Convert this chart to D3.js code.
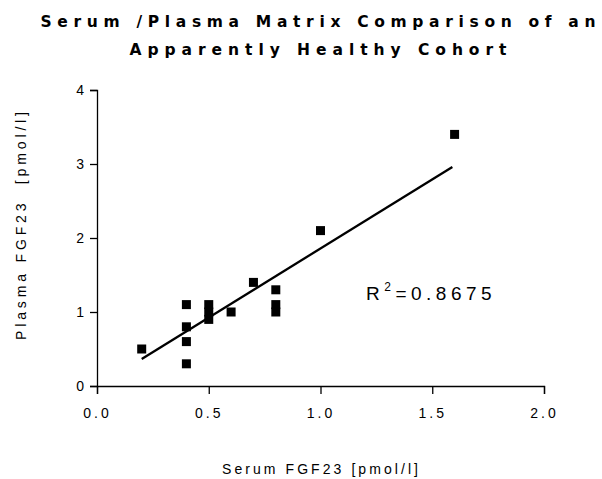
<!DOCTYPE html>
<html lang="en">
<head>
    <meta charset="UTF-8">
    <title>Serum / Plasma Matrix Comparison</title>
    <script src="https://d3js.org/d3.v7.min.js"></script>
    <style>
        body {
            margin: 0;
            background: #fff;
        }
        text {
            font-family: 'Liberation Sans', Arial, sans-serif;
            fill: #000;
        }
        .title {
            font-family: 'DejaVu Sans', Verdana, sans-serif;
            font-size: 15.5px;
            font-weight: bold;
        }
        .axis text {
            font-size: 14px;
            letter-spacing: 3px;
        }
        .axis path, .axis line {
            stroke: #000;
            stroke-width: 1.3px;
        }
        .axis-label {
            font-size: 14px;
        }
        .r2 {
            font-size: 19px;
            letter-spacing: 4.5px;
        }
    </style>
</head>
<body>
    <svg id="chart"></svg>

    <script>
        // Datos
        const serum = [0.2, 0.4, 0.4, 0.4, 0.4, 0.5, 0.5, 0.5, 0.6, 0.7, 0.8, 0.8, 0.8, 1.0, 1.6];
        const plasma = [0.5, 1.1, 0.8, 0.6, 0.3, 1.1, 1.0, 0.9, 1.0, 1.4, 1.3, 1.1, 1.0, 2.1, 3.4];
        // Recta de ajuste tal como aparece dibujada (inicio y fin)
        const fitX = [0.2, 1.59];
        const fitY = [0.365, 2.96];
        const xTicks = [0, 0.5, 1.0, 1.5, 2.0];
        const yTicks = [0, 1, 2, 3, 4];
        const titleLines = ["Serum /Plasma Matrix Comparison of an", "Apparently Healthy Cohort"];
        const rSquared = "0.8675";

        const width = 602, height = 479;
        const svg = d3.select("#chart")
            .attr("width", width)
            .attr("height", height);

        const x = d3.scaleLinear().domain([0, 2]).range([97, 544]);
        const y = d3.scaleLinear().domain([0, 4]).range([386, 90]);

        // Título (espaciado ancho como en el original)
        const titleLen = [555, 377];
        svg.append("g")
            .selectAll("text")
            .data(titleLines)
            .join("text")
            .attr("class", "title")
            .attr("x", 318)
            .attr("y", (d, i) => 27 + i * 28)
            .attr("text-anchor", "middle")
            .attr("textLength", (d, i) => titleLen[i])
            .attr("lengthAdjust", "spacing")
            .text(d => d);

        // Ejes
        svg.append("g")
            .attr("class", "axis")
            .attr("transform", `translate(0,${y(0)})`)
            .call(d3.axisBottom(x).tickValues(xTicks).tickFormat(d3.format(".1f")).tickSizeOuter(0).tickSize(8).tickPadding(14));

        svg.append("g")
            .attr("class", "axis")
            .attr("transform", `translate(${x(0)},0)`)
            .call(d3.axisLeft(y).tickValues(yTicks).tickFormat(d3.format("d")).tickSizeOuter(0).tickSize(7).tickPadding(3));

        // Etiquetas de los ejes
        svg.append("text")
            .attr("class", "axis-label")
            .attr("x", 320)
            .attr("y", 474)
            .attr("text-anchor", "middle")
            .attr("textLength", 196)
            .attr("lengthAdjust", "spacing")
            .text("Serum FGF23 [pmol/l]");

        svg.append("text")
            .attr("class", "axis-label")
            .attr("transform", "translate(26,226) rotate(-90)")
            .attr("text-anchor", "middle")
            .attr("xml:space", "preserve")
            .attr("textLength", 228)
            .attr("lengthAdjust", "spacing")
            .text("Plasma FGF23  [pmol/l]");

        // Recta de regresión
        const fit = fitX.map((d, i) => [d, fitY[i]]);
        svg.append("path")
            .datum(fit)
            .attr("fill", "none")
            .attr("stroke", "#000")
            .attr("stroke-width", 2.3)
            .attr("d", d3.line().x(d => x(d[0])).y(d => y(d[1])));

        // Puntos
        const s = 9;
        svg.append("g")
            .selectAll("rect")
            .data(serum.map((d, i) => [d, plasma[i]]))
            .join("rect")
            .attr("x", d => x(d[0]) - s / 2)
            .attr("y", d => y(d[1]) - s / 2)
            .attr("width", s)
            .attr("height", s)
            .attr("fill", "#000");

        // R²
        const r2 = svg.append("text")
            .attr("class", "r2")
            .attr("x", 366)
            .attr("y", 300);
        r2.append("tspan").text("R");
        r2.append("tspan").attr("dy", -9).attr("font-size", 12).text("2");
        r2.append("tspan").attr("dy", 9).text("=" + rSquared);
    </script>
</body>
</html>
